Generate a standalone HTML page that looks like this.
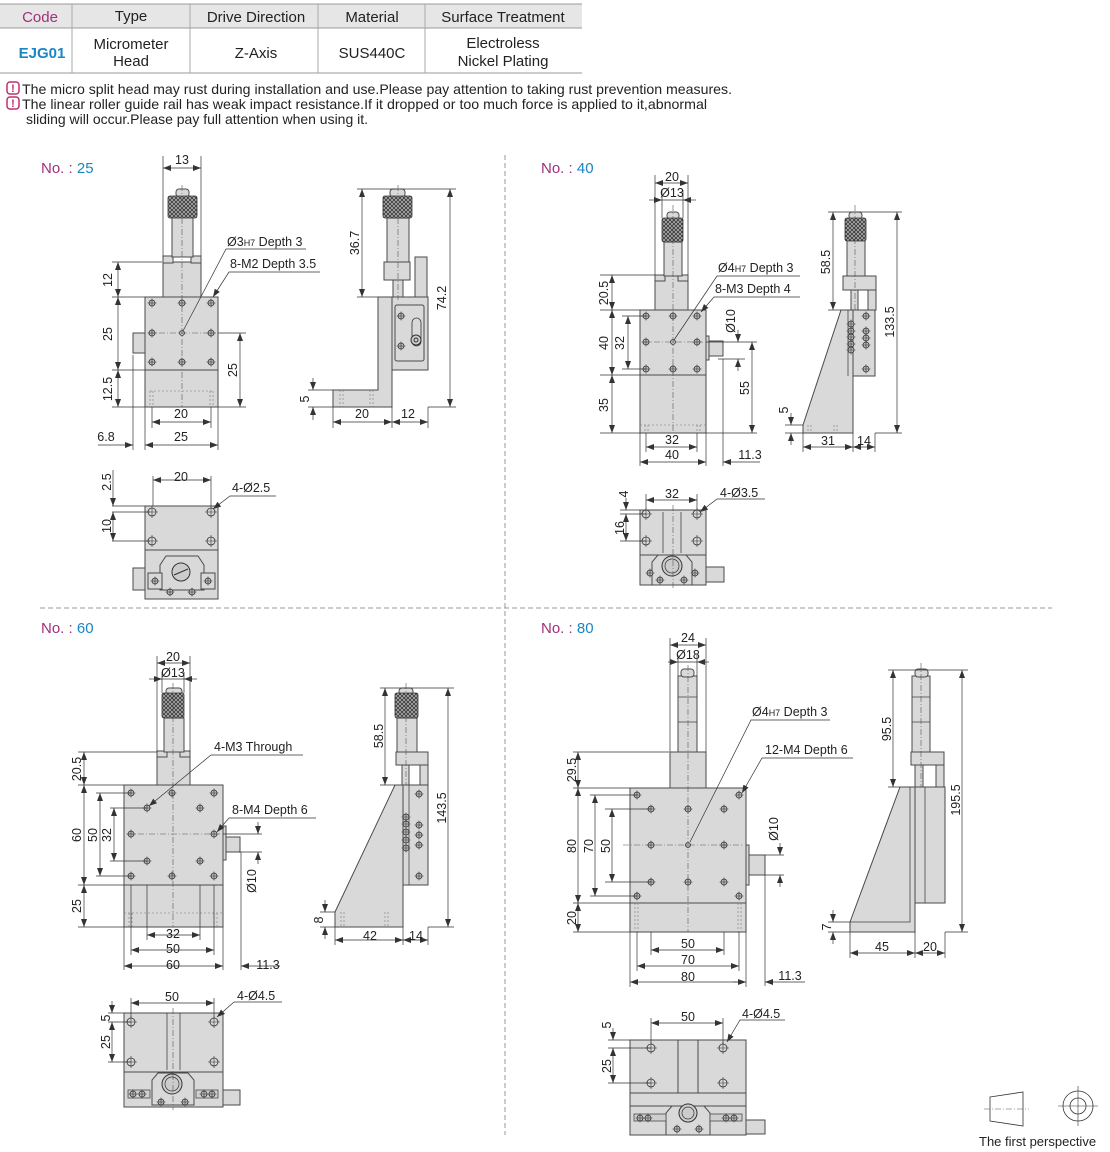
<!DOCTYPE html>
<html><head><meta charset="utf-8"><style>
html,body{margin:0;padding:0;background:#fff}
svg{display:block}
.t{font-family:"Liberation Sans",sans-serif;font-size:12.5px;fill:#222}
.b{fill:#d9d9d9;stroke:#4a4a4a;stroke-width:1}
.w{fill:#cfcfcf;stroke:#4a4a4a;stroke-width:.8}
.d{stroke:#333;stroke-width:.7;fill:none}
.dm{stroke:#333;stroke-width:.7;fill:none;marker-start:url(#a);marker-end:url(#a)}
.c{stroke:#555;stroke-width:.6;stroke-dasharray:6 2 1 2;fill:none}
.k{fill:url(#kn);stroke:#333;stroke-width:.8}
.ds{stroke:#777;stroke-width:.6;stroke-dasharray:2 2;fill:none}
</style></head><body>
<svg width="1110" height="1152" viewBox="0 0 1110 1152" xmlns="http://www.w3.org/2000/svg">
<defs>
<marker id="a" viewBox="0 0 8 6" refX="8" refY="3" markerWidth="8" markerHeight="6" markerUnits="userSpaceOnUse" orient="auto-start-reverse"><path d="M0,0L8,3L0,6z" fill="#333"/></marker>
<pattern id="kn" width="4" height="4" patternUnits="userSpaceOnUse"><rect width="4" height="4" fill="#3a3a3a"/><path d="M0,0L4,4M4,0L0,4" stroke="#bbb" stroke-width=".7"/></pattern>
<g id="h"><circle r="3" fill="#bbb" stroke="#333" stroke-width=".8"/><path d="M-4.5,0H4.5M0,-4.5V4.5" stroke="#333" stroke-width=".6"/></g>
<g id="ho"><circle r="4" fill="none" stroke="#333" stroke-width=".8"/><path d="M-6,0H6M0,-6V6" stroke="#333" stroke-width=".6"/></g>
</defs>

<!-- TABLE -->
<rect x="0" y="4" width="582" height="24" fill="#e6e6e6"/>
<line x1="0" y1="4" x2="582" y2="4" stroke="#999"/>
<line x1="0" y1="28" x2="582" y2="28" stroke="#999"/>
<line x1="0" y1="73" x2="582" y2="73" stroke="#999"/>
<g stroke="#aaa"><line x1="72" y1="4" x2="72" y2="73"/><line x1="190" y1="4" x2="190" y2="73"/><line x1="318" y1="4" x2="318" y2="73"/><line x1="425" y1="4" x2="425" y2="73"/></g>
<g class="t" style="font-size:15px" text-anchor="middle">
<text x="40" y="22" fill="#a0307a" style="fill:#a0307a">Code</text>
<text x="131" y="21">Type</text>
<text x="256" y="22">Drive Direction</text>
<text x="372" y="22">Material</text>
<text x="503" y="22">Surface Treatment</text>
<text x="42" y="58" style="fill:#1a86c4;font-weight:bold">EJG01</text>
<text x="131" y="49">Micrometer</text>
<text x="131" y="66">Head</text>
<text x="256" y="58">Z-Axis</text>
<text x="372" y="58">SUS440C</text>
<text x="503" y="48">Electroless</text>
<text x="503" y="66">Nickel Plating</text>
</g>
<!-- notes -->
<g>
<rect x="7" y="82" width="12" height="12" rx="3" fill="none" stroke="#c0306a" stroke-width="1.5"/><text x="13" y="92" class="t" text-anchor="middle" style="fill:#c0306a;font-weight:bold;font-size:11px">!</text>
<rect x="7" y="97" width="12" height="12" rx="3" fill="none" stroke="#c0306a" stroke-width="1.5"/><text x="13" y="107" class="t" text-anchor="middle" style="fill:#c0306a;font-weight:bold;font-size:11px">!</text>
<text x="22" y="94" class="t" style="font-size:14px" textLength="710" lengthAdjust="spacingAndGlyphs">The micro split head may rust during installation and use.Please pay attention to taking rust prevention measures.</text>
<text x="22" y="109" class="t" style="font-size:14px" textLength="685" lengthAdjust="spacingAndGlyphs">The linear roller guide rail has weak impact resistance.If it dropped or too much force is applied to it,abnormal</text>
<text x="26" y="124" class="t" style="font-size:14px" textLength="342" lengthAdjust="spacingAndGlyphs">sliding will occur.Please pay full attention when using it.</text>
</g>

<!-- separators -->
<line x1="40" y1="608" x2="1052" y2="608" stroke="#999" stroke-dasharray="5 3"/>
<line x1="505" y1="155" x2="505" y2="1135" stroke="#999" stroke-dasharray="5 3"/>

<!-- titles -->
<g class="t" style="font-size:15px">
<text x="41" y="173"><tspan style="fill:#a0307a">No. : </tspan><tspan style="fill:#1a86c4">25</tspan></text>
<text x="541" y="173"><tspan style="fill:#a0307a">No. : </tspan><tspan style="fill:#1a86c4">40</tspan></text>
<text x="41" y="633"><tspan style="fill:#a0307a">No. : </tspan><tspan style="fill:#1a86c4">60</tspan></text>
<text x="541" y="633"><tspan style="fill:#a0307a">No. : </tspan><tspan style="fill:#1a86c4">80</tspan></text>
</g>

<!-- ============ No.25 FRONT ============ -->
<rect class="b" x="133" y="333" width="12" height="20"/>
<rect class="b" x="163" y="262" width="38" height="35"/>
<rect class="b" x="163" y="256" width="10" height="7"/><rect class="b" x="191" y="256" width="10" height="7"/>
<rect class="b" x="172" y="217" width="21" height="40"/>
<rect class="b" x="176" y="189" width="13" height="8" rx="3"/>
<rect class="k" x="168" y="196" width="29" height="22" rx="2"/>
<rect class="b" x="145" y="297" width="73" height="73"/>
<rect class="b" x="145" y="370" width="73" height="37"/>
<path class="ds" d="M150,391H213M150,391V407M153,391V407M210,391V407M213,391V407"/>
<g><use href="#h" x="152" y="303"/><use href="#h" x="182" y="303"/><use href="#h" x="211" y="303"/><use href="#h" x="152" y="333"/><use href="#h" x="211" y="333"/><use href="#h" x="152" y="362"/><use href="#h" x="182" y="362"/><use href="#h" x="211" y="362"/><circle cx="182" cy="333" r="2.5" fill="#bbb" stroke="#333" stroke-width=".8"/></g>
<line class="c" x1="182" y1="185" x2="182" y2="407"/><line class="c" x1="148" y1="333" x2="216" y2="333"/>
<!-- dims -->
<path class="d" d="M163,156V256M201,156V256"/>
<line class="dm" x1="163" y1="168" x2="201" y2="168"/><text class="t" x="182" y="164" text-anchor="middle">13</text>
<path class="d" d="M112,262H162M112,297H145M112,370H145M112,407H145"/>
<line class="dm" x1="118" y1="262" x2="118" y2="297"/><line class="dm" x1="118" y1="297" x2="118" y2="370"/><line class="dm" x1="118" y1="370" x2="118" y2="407"/>
<text class="t" transform="translate(112,280) rotate(-90)" text-anchor="middle">12</text>
<text class="t" transform="translate(112,334) rotate(-90)" text-anchor="middle">25</text>
<text class="t" transform="translate(112,389) rotate(-90)" text-anchor="middle">12.5</text>
<path class="d" d="M218,333H246M218,407H246"/>
<line class="dm" x1="240" y1="333" x2="240" y2="407"/><text class="t" transform="translate(237,370) rotate(-90)" text-anchor="middle">25</text>
<path class="d" d="M152,407V428M211,407V428M145,407V450M218,407V450M133,355V450"/>
<line class="dm" x1="152" y1="422" x2="211" y2="422"/><text class="t" x="181" y="418" text-anchor="middle">20</text>
<line class="dm" x1="145" y1="445" x2="218" y2="445"/><text class="t" x="181" y="441" text-anchor="middle">25</text>
<line class="d" x1="98" y1="445" x2="133" y2="445" style="marker-end:url(#a)"/><text class="t" x="106" y="441" text-anchor="middle">6.8</text>
<text class="t" x="227" y="246">Ø3<tspan style="font-size:9px">H7</tspan> Depth 3</text>
<path class="d" d="M306,249H226L183,331"/>
<text class="t" x="230" y="268">8-M2 Depth 3.5</text>
<path class="d" d="M320,272H229L213,297" style="marker-end:url(#a)"/>

<!-- No.25 SIDE -->
<rect class="b" x="415" y="257" width="12" height="40"/>
<rect class="b" x="387" y="218" width="22" height="44"/>
<rect class="b" x="390" y="189" width="15" height="8" rx="3"/>
<rect class="k" x="383" y="196" width="29" height="22" rx="2"/>
<rect class="b" x="384" y="262" width="26" height="18"/>
<rect class="b" x="393" y="280" width="10" height="17"/>
<path class="b" d="M333,390H378V297H392V407H333Z"/>
<rect class="b" x="392" y="297" width="36" height="73"/>
<rect class="b" x="395" y="305" width="29" height="56" rx="2"/>
<use href="#h" x="401" y="316"/><use href="#h" x="401" y="346"/>
<rect x="412" y="318" width="9" height="28" rx="4.5" fill="none" stroke="#333" stroke-width=".8"/>
<circle cx="416" cy="340" r="5" fill="#ccc" stroke="#333"/><circle cx="416" cy="340" r="2" fill="none" stroke="#333"/>
<path class="ds" d="M340,390V407M343,390V407M370,390V407M373,390V407"/>
<line class="c" x1="398" y1="185" x2="398" y2="300"/>
<path class="d" d="M357,189H395M357,297H378M400,189H456M428,407H456"/>
<line class="dm" x1="362" y1="189" x2="362" y2="297"/><text class="t" transform="translate(359,243) rotate(-90)" text-anchor="middle">36.7</text>
<line class="dm" x1="450" y1="189" x2="450" y2="407"/><text class="t" transform="translate(446,298) rotate(-90)" text-anchor="middle">74.2</text>
<path class="d" d="M308,390H333M308,407H333"/>
<line class="d" x1="313" y1="378" x2="313" y2="390" style="marker-end:url(#a)"/><line class="d" x1="313" y1="420" x2="313" y2="407" style="marker-end:url(#a)"/>
<text class="t" transform="translate(309,399) rotate(-90)" text-anchor="middle">5</text>
<path class="d" d="M333,407V428M392,407V428M428,407V428"/>
<line class="dm" x1="333" y1="422" x2="392" y2="422"/><text class="t" x="362" y="418" text-anchor="middle">20</text>
<line class="dm" x1="392" y1="422" x2="428" y2="422"/><text class="t" x="408" y="418" text-anchor="middle">12</text>

<!-- No.25 TOP -->
<rect class="b" x="133" y="568" width="12" height="22"/>
<rect class="b" x="145" y="506" width="73" height="44"/>
<rect class="b" x="145" y="550" width="73" height="49"/>
<path class="b" d="M166,556H198L204,565V590H160V565Z"/>
<circle cx="181" cy="572" r="9" fill="#ccc" stroke="#333"/><line x1="174" y1="575" x2="188" y2="569" stroke="#333"/>
<rect class="b" x="148" y="573" width="14" height="16"/><rect class="b" x="201" y="573" width="14" height="16"/>
<use href="#h" x="155" y="581"/><use href="#h" x="208" y="581"/><use href="#h" x="170" y="592"/><use href="#h" x="192" y="592"/>
<use href="#ho" x="152" y="512"/><use href="#ho" x="211" y="512"/><use href="#ho" x="152" y="541"/><use href="#ho" x="211" y="541"/>
<path class="d" d="M153,476V506M211,476V506M112,506H145M112,512H150M112,541H150"/>
<line class="dm" x1="153" y1="480" x2="211" y2="480"/><text class="t" x="181" y="481" text-anchor="middle">20</text>
<line class="d" x1="113" y1="470" x2="113" y2="506" style="marker-end:url(#a)"/><line class="dm" x1="113" y1="512" x2="113" y2="541"/>
<text class="t" transform="translate(111,482) rotate(-90)" text-anchor="middle">2.5</text>
<text class="t" transform="translate(111,526) rotate(-90)" text-anchor="middle">10</text>
<text class="t" x="232" y="492">4-Ø2.5</text>
<path class="d" d="M276,496H230L213,509" style="marker-end:url(#a)"/>

<!-- ============ No.40 FRONT ============ -->
<rect class="b" x="706" y="341" width="17" height="15"/><rect class="b" x="704" y="336" width="5" height="24"/>
<rect class="b" x="655" y="276" width="33" height="34"/>
<rect class="b" x="655" y="275" width="10" height="6"/><rect class="b" x="678" y="275" width="10" height="6"/>
<rect class="b" x="664" y="242" width="18" height="34"/>
<rect class="b" x="667" y="212" width="12" height="7" rx="3"/>
<rect class="k" x="662" y="218" width="21" height="24" rx="2"/>
<rect class="b" x="640" y="310" width="66" height="65"/>
<rect class="b" x="640" y="375" width="66" height="58"/>
<path class="ds" d="M640,425H706M645,425V433M648,425V433M697,425V433M700,425V433"/>
<g><use href="#h" x="646" y="316"/><use href="#h" x="673" y="316"/><use href="#h" x="697" y="316"/><use href="#h" x="646" y="342"/><use href="#h" x="697" y="342"/><use href="#h" x="646" y="369"/><use href="#h" x="673" y="369"/><use href="#h" x="697" y="369"/><circle cx="673" cy="342" r="2.5" fill="#bbb" stroke="#333" stroke-width=".8"/></g>
<line class="c" x1="673" y1="205" x2="673" y2="433"/><line class="c" x1="643" y1="342" x2="703" y2="342"/>
<path class="d" d="M655,175V275M688,175V275M662,190V218M683,190V218"/>
<line class="dm" x1="655" y1="183" x2="688" y2="183"/><text class="t" x="672" y="181" text-anchor="middle">20</text>
<line class="d" x1="649" y1="200" x2="662" y2="200" style="marker-end:url(#a)"/><line class="d" x1="696" y1="200" x2="683" y2="200" style="marker-end:url(#a)"/><line class="d" x1="662" y1="200" x2="683" y2="200"/>
<text class="t" x="672" y="197" text-anchor="middle">Ø13</text>
<path class="d" d="M600,275H655M600,310H640M600,375H640M600,433H640M622,316H646M622,369H646"/>
<line class="dm" x1="612" y1="275" x2="612" y2="310"/><line class="dm" x1="612" y1="310" x2="612" y2="375"/><line class="dm" x1="612" y1="375" x2="612" y2="433"/><line class="dm" x1="628" y1="316" x2="628" y2="369"/>
<text class="t" transform="translate(608,293) rotate(-90)" text-anchor="middle">20.5</text>
<text class="t" transform="translate(608,343) rotate(-90)" text-anchor="middle">40</text>
<text class="t" transform="translate(624,343) rotate(-90)" text-anchor="middle">32</text>
<text class="t" transform="translate(608,405) rotate(-90)" text-anchor="middle">35</text>
<path class="d" d="M706,342H757M718,359H745M706,433H757M723,359V466"/>
<line class="d" x1="738" y1="330" x2="738" y2="342" style="marker-end:url(#a)"/><line class="d" x1="738" y1="371" x2="738" y2="359" style="marker-end:url(#a)"/>
<text class="t" transform="translate(735,321) rotate(-90)" text-anchor="middle">Ø10</text>
<line class="dm" x1="752" y1="342" x2="752" y2="433"/><text class="t" transform="translate(749,388) rotate(-90)" text-anchor="middle">55</text>
<path class="d" d="M646,433V452M697,433V452M640,433V466M706,433V466"/>
<line class="dm" x1="646" y1="447" x2="697" y2="447"/><text class="t" x="672" y="444" text-anchor="middle">32</text>
<line class="dm" x1="640" y1="462" x2="706" y2="462"/><text class="t" x="672" y="459" text-anchor="middle">40</text>
<line class="d" x1="760" y1="462" x2="723" y2="462" style="marker-end:url(#a)"/><text class="t" x="750" y="459" text-anchor="middle">11.3</text>
<text class="t" x="718" y="272">Ø4<tspan style="font-size:9px">H7</tspan> Depth 3</text>
<path class="d" d="M800,276H717L674,340"/>
<text class="t" x="715" y="293">8-M3 Depth 4</text>
<path class="d" d="M800,297H714L701,312" style="marker-end:url(#a)"/>

<!-- No.40 SIDE -->
<rect class="b" x="868" y="276" width="8" height="34"/>
<rect class="b" x="847" y="240" width="18" height="36"/>
<rect class="b" x="849" y="212" width="13" height="7" rx="3"/>
<rect class="k" x="845" y="218" width="21" height="23" rx="2"/>
<rect class="b" x="843" y="276" width="33" height="14"/>
<rect class="b" x="851" y="290" width="7" height="20"/>
<path class="b" d="M803,425L841,310H853V433H803Z"/>
<line x1="848" y1="310" x2="848" y2="376" stroke="#444" stroke-width=".8"/>
<rect class="b" x="853" y="310" width="22" height="66"/>
<g><use href="#h" x="851" y="324"/><use href="#h" x="851" y="331"/><use href="#h" x="851" y="337"/><use href="#h" x="851" y="344"/><use href="#h" x="851" y="350"/><use href="#h" x="866" y="316"/><use href="#h" x="866" y="331"/><use href="#h" x="866" y="338"/><use href="#h" x="866" y="345"/><use href="#h" x="866" y="369"/></g>
<path class="ds" d="M808,425V433M811,425V433M834,425V433M837,425V433"/>
<line class="c" x1="855" y1="205" x2="855" y2="310"/>
<path class="d" d="M828,212H902M828,310H841M875,433H902"/>
<line class="dm" x1="833" y1="212" x2="833" y2="310"/><text class="t" transform="translate(830,262) rotate(-90)" text-anchor="middle">58.5</text>
<line class="dm" x1="897" y1="212" x2="897" y2="433"/><text class="t" transform="translate(894,322) rotate(-90)" text-anchor="middle">133.5</text>
<path class="d" d="M785,425H803M785,433H803"/>
<line class="d" x1="791" y1="413" x2="791" y2="425" style="marker-end:url(#a)"/><line class="d" x1="791" y1="445" x2="791" y2="433" style="marker-end:url(#a)"/>
<text class="t" transform="translate(788,410) rotate(-90)" text-anchor="middle">5</text>
<path class="d" d="M803,433V452M853,433V452M875,433V452"/>
<line class="dm" x1="803" y1="447" x2="853" y2="447"/><text class="t" x="828" y="445" text-anchor="middle">31</text>
<line class="dm" x1="853" y1="447" x2="875" y2="447"/><text class="t" x="864" y="445" text-anchor="middle">14</text>

<!-- No.40 TOP -->
<rect class="b" x="706" y="567" width="18" height="15"/>
<rect class="b" x="640" y="510" width="66" height="45"/>
<path d="M663,512V553M681,512V553" stroke="#444" stroke-width=".8"/>
<rect class="b" x="640" y="555" width="66" height="30"/>
<path class="b" d="M658,555H686L692,562V585H652V562Z"/>
<circle cx="672" cy="566" r="10" fill="#ccc" stroke="#333"/><circle cx="672" cy="566" r="7" fill="none" stroke="#333" stroke-width=".7"/>
<use href="#h" x="650" y="573"/><use href="#h" x="695" y="573"/><use href="#h" x="660" y="580"/><use href="#h" x="684" y="580"/>
<use href="#ho" x="646" y="514"/><use href="#ho" x="697" y="514"/><use href="#ho" x="646" y="541"/><use href="#ho" x="697" y="541"/>
<line class="c" x1="673" y1="505" x2="673" y2="590"/>
<path class="d" d="M646,494V510M697,494V510M620,510H640M620,514H646M620,541H646"/>
<line class="dm" x1="646" y1="500" x2="697" y2="500"/><text class="t" x="672" y="498" text-anchor="middle">32</text>
<line class="d" x1="626" y1="498" x2="626" y2="510" style="marker-end:url(#a)"/><line class="dm" x1="626" y1="514" x2="626" y2="541"/>
<text class="t" transform="translate(628,494) rotate(-90)" text-anchor="middle">4</text>
<text class="t" transform="translate(624,528) rotate(-90)" text-anchor="middle">16</text>
<text class="t" x="720" y="497">4-Ø3.5</text>
<path class="d" d="M765,499H717L700,512" style="marker-end:url(#a)"/>

<!-- ============ No.60 FRONT ============ -->
<rect class="b" x="223" y="837" width="17" height="15"/><rect class="b" x="221" y="826" width="5" height="34"/>
<rect class="b" x="157" y="752" width="33" height="33"/>
<rect class="b" x="157" y="751" width="10" height="6"/><rect class="b" x="180" y="751" width="10" height="6"/>
<rect class="b" x="164" y="718" width="20" height="34"/>
<rect class="b" x="166" y="688" width="16" height="7" rx="3"/>
<rect class="k" x="162" y="693" width="22" height="25" rx="2"/>
<rect class="b" x="124" y="785" width="99" height="100"/>
<rect class="b" x="124" y="885" width="99" height="42"/>
<path class="ds" d="M124,913H223M129,913V927M132,913V927M214,913V927M217,913V927"/>
<g><use href="#h" x="131" y="793"/><use href="#h" x="172" y="793"/><use href="#h" x="214" y="793"/><use href="#h" x="131" y="834"/><use href="#h" x="214" y="834"/><use href="#h" x="131" y="876"/><use href="#h" x="172" y="876"/><use href="#h" x="214" y="876"/><use href="#h" x="147" y="808"/><use href="#h" x="200" y="808"/><use href="#h" x="147" y="861"/><use href="#h" x="200" y="861"/></g>
<line class="c" x1="173" y1="683" x2="173" y2="927"/><line class="c" x1="127" y1="834" x2="220" y2="834"/>
<path class="d" d="M157,656V752M190,656V752M162,672V693M184,672V693"/>
<line class="dm" x1="157" y1="663" x2="190" y2="663"/><text class="t" x="173" y="661" text-anchor="middle">20</text>
<line class="d" x1="149" y1="679" x2="162" y2="679" style="marker-end:url(#a)"/><line class="d" x1="197" y1="679" x2="184" y2="679" style="marker-end:url(#a)"/><line class="d" x1="162" y1="679" x2="184" y2="679"/>
<text class="t" x="173" y="677" text-anchor="middle">Ø13</text>
<path class="d" d="M78,752H157M78,785H124M78,885H124M78,927H124M96,793H131M110,808H147M96,876H131M110,861H147"/>
<line class="dm" x1="84" y1="752" x2="84" y2="785"/><line class="dm" x1="84" y1="785" x2="84" y2="885"/><line class="dm" x1="84" y1="885" x2="84" y2="927"/>
<line class="dm" x1="100" y1="793" x2="100" y2="876"/><line class="dm" x1="114" y1="808" x2="114" y2="861"/>
<text class="t" transform="translate(81,769) rotate(-90)" text-anchor="middle">20.5</text>
<text class="t" transform="translate(81,835) rotate(-90)" text-anchor="middle">60</text>
<text class="t" transform="translate(97,835) rotate(-90)" text-anchor="middle">50</text>
<text class="t" transform="translate(111,835) rotate(-90)" text-anchor="middle">32</text>
<text class="t" transform="translate(81,906) rotate(-90)" text-anchor="middle">25</text>
<path class="d" d="M223,834H262M238,852H262M241,852V970"/>
<line class="d" x1="258" y1="822" x2="258" y2="834" style="marker-end:url(#a)"/><line class="d" x1="258" y1="864" x2="258" y2="852" style="marker-end:url(#a)"/>
<text class="t" transform="translate(256,881) rotate(-90)" text-anchor="middle">Ø10</text>
<path class="d" d="M147,885V940M200,885V940M131,885V955M214,885V955M124,927V970M223,927V970"/>
<line class="dm" x1="147" y1="935" x2="200" y2="935"/><text class="t" x="173" y="938" text-anchor="middle">32</text>
<line class="dm" x1="131" y1="950" x2="214" y2="950"/><text class="t" x="173" y="953" text-anchor="middle">50</text>
<line class="dm" x1="124" y1="966" x2="223" y2="966"/><text class="t" x="173" y="969" text-anchor="middle">60</text>
<line class="d" x1="280" y1="966" x2="241" y2="966" style="marker-end:url(#a)"/><text class="t" x="268" y="969" text-anchor="middle">11.3</text>
<text class="t" x="214" y="751">4-M3 Through</text>
<path class="d" d="M303,755H211L149,806" style="marker-end:url(#a)"/>
<text class="t" x="232" y="814">8-M4 Depth 6</text>
<path class="d" d="M316,818H229L217,832" style="marker-end:url(#a)"/>

<!-- No.60 SIDE -->
<rect class="b" x="420" y="752" width="8" height="33"/>
<rect class="b" x="397" y="718" width="20" height="34"/>
<rect class="b" x="399" y="688" width="14" height="7" rx="3"/>
<rect class="k" x="395" y="693" width="23" height="25" rx="2"/>
<rect class="b" x="396" y="752" width="32" height="13"/>
<rect class="b" x="402" y="765" width="7" height="20"/>
<path class="b" d="M335,912L395,785H403V927H335Z"/>
<rect class="b" x="403" y="785" width="25" height="100"/>
<line x1="409" y1="785" x2="409" y2="885" stroke="#444" stroke-width=".8"/>
<g><use href="#h" x="406" y="817"/><use href="#h" x="406" y="824"/><use href="#h" x="406" y="832"/><use href="#h" x="406" y="840"/><use href="#h" x="406" y="848"/><use href="#h" x="419" y="794"/><use href="#h" x="419" y="825"/><use href="#h" x="419" y="835"/><use href="#h" x="419" y="845"/><use href="#h" x="419" y="876"/></g>
<path class="ds" d="M341,912V927M344,912V927M385,912V927M388,912V927"/>
<line class="c" x1="406" y1="683" x2="406" y2="785"/>
<path class="d" d="M380,688H454M380,785H395M428,927H454"/>
<line class="dm" x1="385" y1="688" x2="385" y2="785"/><text class="t" transform="translate(383,736) rotate(-90)" text-anchor="middle">58.5</text>
<line class="dm" x1="448" y1="688" x2="448" y2="927"/><text class="t" transform="translate(446,808) rotate(-90)" text-anchor="middle">143.5</text>
<path class="d" d="M320,912H335M320,927H335"/>
<line class="d" x1="325" y1="900" x2="325" y2="912" style="marker-end:url(#a)"/><line class="d" x1="325" y1="939" x2="325" y2="927" style="marker-end:url(#a)"/>
<text class="t" transform="translate(323,920) rotate(-90)" text-anchor="middle">8</text>
<path class="d" d="M335,927V945M403,927V945M428,927V945"/>
<line class="dm" x1="335" y1="940" x2="403" y2="940"/><text class="t" x="370" y="940" text-anchor="middle">42</text>
<line class="dm" x1="403" y1="940" x2="428" y2="940"/><text class="t" x="416" y="940" text-anchor="middle">14</text>

<!-- No.60 TOP -->
<rect class="b" x="223" y="1090" width="17" height="15"/>
<rect class="b" x="124" y="1013" width="99" height="59"/>
<path d="M167,1013V1070M180,1013V1070" stroke="#444" stroke-width=".8"/>
<rect class="b" x="124" y="1072" width="99" height="35"/>
<path class="b" d="M158,1073H188L194,1080V1105H152V1080Z"/>
<circle cx="172" cy="1084" r="10" fill="#ccc" stroke="#333"/><circle cx="172" cy="1084" r="7" fill="none" stroke="#333" stroke-width=".7"/>
<rect class="w" x="128" y="1090" width="22" height="8"/><rect class="w" x="196" y="1090" width="22" height="8"/>
<use href="#h" x="133" y="1094"/><use href="#h" x="142" y="1094"/><use href="#h" x="204" y="1094"/><use href="#h" x="212" y="1094"/><use href="#h" x="161" y="1102"/><use href="#h" x="185" y="1102"/>
<use href="#ho" x="131" y="1022"/><use href="#ho" x="214" y="1022"/><use href="#ho" x="131" y="1062"/><use href="#ho" x="214" y="1062"/>
<line class="c" x1="173" y1="1008" x2="173" y2="1110"/>
<path class="d" d="M131,998V1018M214,998V1018M108,1013H124M108,1022H131M108,1062H131"/>
<line class="dm" x1="131" y1="1003" x2="214" y2="1003"/><text class="t" x="172" y="1001" text-anchor="middle">50</text>
<line class="d" x1="112" y1="1001" x2="112" y2="1013" style="marker-end:url(#a)"/><line class="dm" x1="112" y1="1022" x2="112" y2="1062"/>
<text class="t" transform="translate(110,1018) rotate(-90)" text-anchor="middle">5</text>
<text class="t" transform="translate(110,1042) rotate(-90)" text-anchor="middle">25</text>
<text class="t" x="237" y="1000">4-Ø4.5</text>
<path class="d" d="M282,1002H234L217,1017" style="marker-end:url(#a)"/>

<!-- ============ No.80 FRONT ============ -->
<rect class="b" x="746" y="855" width="19" height="20"/><rect class="b" x="744" y="845" width="5" height="40"/>
<rect class="b" x="670" y="752" width="36" height="36"/>
<rect class="b" x="678" y="676" width="19" height="76"/>
<rect class="b" x="681" y="669" width="13" height="8" rx="3"/>
<path d="M678,697H697M678,722H697" stroke="#444" stroke-width=".8"/>
<rect class="b" x="630" y="788" width="116" height="115"/>
<rect class="b" x="630" y="903" width="116" height="29"/>
<path class="ds" d="M635,903V932M638,903V932M738,903V932M741,903V932"/>
<g><use href="#h" x="637" y="795"/><use href="#h" x="739" y="795"/><use href="#h" x="637" y="896"/><use href="#h" x="739" y="896"/><use href="#h" x="651" y="809"/><use href="#h" x="688" y="809"/><use href="#h" x="724" y="809"/><use href="#h" x="651" y="845"/><use href="#h" x="724" y="845"/><use href="#h" x="651" y="882"/><use href="#h" x="688" y="882"/><use href="#h" x="724" y="882"/><circle cx="688" cy="845" r="2.5" fill="#bbb" stroke="#333" stroke-width=".8"/></g>
<line class="c" x1="688" y1="665" x2="688" y2="932"/><line class="c" x1="623" y1="845" x2="744" y2="845"/>
<path class="d" d="M670,638V752M706,638V752M678,655V676M697,655V676"/>
<line class="dm" x1="670" y1="645" x2="706" y2="645"/><text class="t" x="688" y="642" text-anchor="middle">24</text>
<line class="d" x1="668" y1="662" x2="678" y2="662" style="marker-end:url(#a)"/><line class="d" x1="709" y1="662" x2="697" y2="662" style="marker-end:url(#a)"/><line class="d" x1="678" y1="662" x2="697" y2="662"/>
<text class="t" x="688" y="659" text-anchor="middle">Ø18</text>
<path class="d" d="M573,752H669M573,788H630M573,903H630M573,932H630M590,795H637M605,809H651M590,896H637M605,882H651"/>
<line class="dm" x1="578" y1="752" x2="578" y2="788"/><line class="dm" x1="578" y1="788" x2="578" y2="903"/><line class="dm" x1="578" y1="903" x2="578" y2="932"/>
<line class="dm" x1="595" y1="795" x2="595" y2="896"/><line class="dm" x1="612" y1="809" x2="612" y2="882"/>
<text class="t" transform="translate(576,770) rotate(-90)" text-anchor="middle">29.5</text>
<text class="t" transform="translate(576,846) rotate(-90)" text-anchor="middle">80</text>
<text class="t" transform="translate(593,846) rotate(-90)" text-anchor="middle">70</text>
<text class="t" transform="translate(610,846) rotate(-90)" text-anchor="middle">50</text>
<text class="t" transform="translate(576,918) rotate(-90)" text-anchor="middle">20</text>
<path class="d" d="M765,855H784M765,875H784M765,875V986"/>
<line class="d" x1="780" y1="843" x2="780" y2="855" style="marker-end:url(#a)"/><line class="d" x1="780" y1="887" x2="780" y2="875" style="marker-end:url(#a)"/>
<text class="t" transform="translate(778,829) rotate(-90)" text-anchor="middle">Ø10</text>
<path class="d" d="M651,932V955M724,932V955M637,932V971M739,932V971M630,932V987M746,932V987"/>
<line class="dm" x1="651" y1="950" x2="724" y2="950"/><text class="t" x="688" y="948" text-anchor="middle">50</text>
<line class="dm" x1="637" y1="966" x2="739" y2="966"/><text class="t" x="688" y="964" text-anchor="middle">70</text>
<line class="dm" x1="630" y1="982" x2="746" y2="982"/><text class="t" x="688" y="981" text-anchor="middle">80</text>
<line class="d" x1="805" y1="982" x2="765" y2="982" style="marker-end:url(#a)"/><line class="d" x1="733" y1="982" x2="746" y2="982"/><text class="t" x="790" y="980" text-anchor="middle">11.3</text>
<text class="t" x="752" y="716">Ø4<tspan style="font-size:9px">H7</tspan> Depth 3</text>
<path class="d" d="M830,720H751L690,842"/>
<text class="t" x="765" y="754">12-M4 Depth 6</text>
<path class="d" d="M853,758H762L742,793" style="marker-end:url(#a)"/>

<!-- No.80 SIDE -->
<rect class="b" x="936" y="752" width="8" height="35"/>
<rect class="b" x="912" y="676" width="18" height="76"/>
<rect class="b" x="915" y="669" width="13" height="8" rx="3"/>
<path d="M912,697H930M912,722H930" stroke="#444" stroke-width=".8"/>
<rect class="b" x="911" y="752" width="33" height="13"/>
<rect class="b" x="915" y="765" width="8" height="22"/>
<path class="b" d="M850,922L900,787H915V932H850Z"/>
<path d="M850,922H910V787" stroke="#444" stroke-width=".8" fill="none"/>
<rect class="b" x="915" y="787" width="30" height="116"/>
<line x1="925" y1="787" x2="925" y2="903" stroke="#444" stroke-width=".8"/>
<line class="c" x1="921" y1="663" x2="921" y2="787"/>
<path class="d" d="M888,670H968M888,787H900M945,932H968"/>
<line class="dm" x1="893" y1="670" x2="893" y2="787"/><text class="t" transform="translate(891,729) rotate(-90)" text-anchor="middle">95.5</text>
<line class="dm" x1="962" y1="670" x2="962" y2="932"/><text class="t" transform="translate(960,800) rotate(-90)" text-anchor="middle">195.5</text>
<path class="d" d="M828,922H850M828,932H850"/>
<line class="d" x1="833" y1="910" x2="833" y2="922" style="marker-end:url(#a)"/><line class="d" x1="833" y1="944" x2="833" y2="932" style="marker-end:url(#a)"/>
<text class="t" transform="translate(831,927) rotate(-90)" text-anchor="middle">7</text>
<path class="d" d="M850,932V958M915,932V958M945,932V958"/>
<line class="dm" x1="850" y1="953" x2="915" y2="953"/><text class="t" x="882" y="951" text-anchor="middle">45</text>
<line class="dm" x1="915" y1="953" x2="945" y2="953"/><text class="t" x="930" y="951" text-anchor="middle">20</text>

<!-- No.80 TOP -->
<rect class="b" x="746" y="1120" width="19" height="14"/>
<rect class="b" x="630" y="1040" width="116" height="53"/>
<rect class="b" x="678" y="1040" width="20" height="53"/>
<rect class="b" x="630" y="1093" width="116" height="13"/>
<rect class="b" x="630" y="1106" width="116" height="29"/>
<path class="b" d="M672,1106H704L710,1113V1135H666V1113Z"/>
<circle cx="688" cy="1113" r="9" fill="#ccc" stroke="#333"/><circle cx="688" cy="1113" r="6" fill="none" stroke="#333" stroke-width=".7"/>
<rect class="w" x="634" y="1114" width="32" height="7"/><rect class="w" x="710" y="1114" width="32" height="7"/>
<use href="#h" x="640" y="1118"/><use href="#h" x="648" y="1118"/><use href="#h" x="726" y="1118"/><use href="#h" x="734" y="1118"/><use href="#h" x="677" y="1129"/><use href="#h" x="699" y="1129"/>
<use href="#ho" x="651" y="1048"/><use href="#ho" x="723" y="1048"/><use href="#ho" x="651" y="1083"/><use href="#ho" x="723" y="1083"/>
<path class="d" d="M651,1018V1044M723,1018V1044M608,1040H630M608,1048H651M608,1083H651"/>
<line class="dm" x1="651" y1="1023" x2="723" y2="1023"/><text class="t" x="688" y="1021" text-anchor="middle">50</text>
<line class="d" x1="613" y1="1028" x2="613" y2="1040" style="marker-end:url(#a)"/><line class="dm" x1="613" y1="1048" x2="613" y2="1083"/>
<text class="t" transform="translate(611,1025) rotate(-90)" text-anchor="middle">5</text>
<text class="t" transform="translate(611,1066) rotate(-90)" text-anchor="middle">25</text>
<text class="t" x="742" y="1018">4-Ø4.5</text>
<path class="d" d="M785,1020H740L727,1042" style="marker-end:url(#a)"/>

<!-- legend -->
<path d="M990,1097L1023,1092V1126L990,1121Z" fill="none" stroke="#333" stroke-width=".8"/>
<line class="c" x1="984" y1="1109" x2="1029" y2="1109"/>
<circle cx="1078" cy="1106" r="15" fill="none" stroke="#333" stroke-width=".8"/>
<circle cx="1078" cy="1106" r="8" fill="none" stroke="#333" stroke-width=".8"/>
<path d="M1058,1106H1098M1078,1086V1126" stroke="#333" stroke-width=".6"/>
<text class="t" x="979" y="1146" style="font-size:13px">The first perspective</text>
</svg>
</body></html>
